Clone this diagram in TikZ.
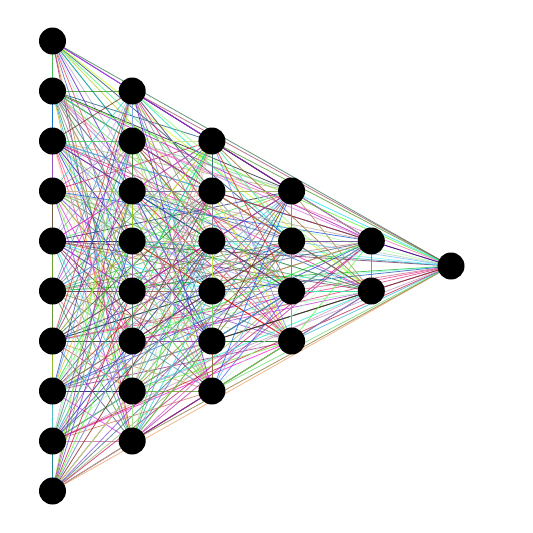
\documentclass[tikz,border=0pt]{standalone}
\pgfdeclarelayer{bg}
\pgfsetlayers{bg,main}
\begin{document}
\begin{tikzpicture}[x=1pt,y=-1pt,
  neuron/.style={circle,fill=black,inner sep=0pt,minimum size=27pt},
  edge/.style={line width=0.8pt,opacity=0.7}]
\useasboundingbox (0,0) rectangle (533,533);
\foreach \n [count=\l] in {10,8,6,4,2,1}{
  \foreach \j in {1,...,\n}{
    \node[neuron] (L\l-\j) at ({52.5+79.7*(\l-1)},{266+50*(\j-(\n+1)/2)}) {};
  }
}
\pgfmathsetseed{7}
\begin{pgfonlayer}{bg}
\foreach \a/\na in {1/10,2/8,3/6,4/4,5/2,6/1}{
 \foreach \i in {1,...,\na}{
  \foreach \b/\nb in {1/10,2/8,3/6,4/4,5/2,6/1}{
   \foreach \k in {1,...,\nb}{
     \pgfmathtruncatemacro\ok{or(\b>\a, and(\b==\a,\k>\i))}
     \ifnum\ok=1
       \pgfmathsetmacro\cr{rnd}
       \pgfmathsetmacro\cg{rnd}
       \pgfmathsetmacro\cb{rnd}
       \definecolor{ec}{rgb}{\cr,\cg,\cb}
       \draw[edge,ec] (L\a-\i.center) -- (L\b-\k.center);
     \fi
   }
  }
 }
}
\end{pgfonlayer}
\end{tikzpicture}
\end{document}
